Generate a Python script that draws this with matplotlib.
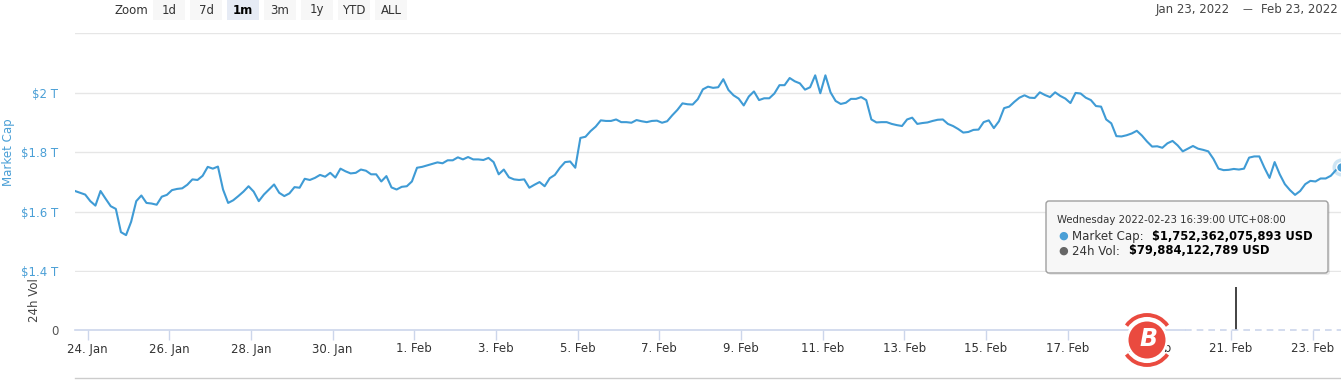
import matplotlib
matplotlib.use("Agg")
import matplotlib.pyplot as plt
import matplotlib.transforms as mtransforms
from matplotlib.patches import FancyBboxPatch, Rectangle, Circle, Arc
from matplotlib.lines import Line2D
from matplotlib.ticker import FuncFormatter
import pandas as pd

# ---------------- data ----------------
start_time = "2022-01-23 16:39"
step = "3h"
# Total market cap (trillion USD), 3-hourly
market_cap_t = [
    1.670, 1.664, 1.658, 1.636, 1.621, 1.670, 1.644, 1.619, 1.610, 1.532,
    1.522, 1.567, 1.636, 1.655, 1.630, 1.628, 1.624, 1.651, 1.657, 1.673,
    1.677, 1.679, 1.691, 1.709, 1.707, 1.721, 1.751, 1.745, 1.752, 1.675,
    1.630, 1.639, 1.653, 1.668, 1.686, 1.668, 1.636, 1.658, 1.675, 1.692,
    1.664, 1.653, 1.662, 1.683, 1.681, 1.711, 1.707, 1.714, 1.724, 1.718,
    1.731, 1.715, 1.745, 1.736, 1.729, 1.731, 1.742, 1.738, 1.726, 1.726,
    1.702, 1.720, 1.682, 1.675, 1.684, 1.686, 1.702, 1.748, 1.751, 1.756,
    1.761, 1.766, 1.763, 1.773, 1.773, 1.783, 1.776, 1.784, 1.776, 1.776,
    1.774, 1.781, 1.767, 1.726, 1.742, 1.716, 1.709, 1.707, 1.709, 1.681,
    1.691, 1.700, 1.686, 1.713, 1.724, 1.748, 1.767, 1.769, 1.748, 1.848,
    1.852, 1.871, 1.886, 1.907, 1.905, 1.905, 1.910, 1.901, 1.901, 1.899,
    1.908, 1.904, 1.901, 1.905, 1.906, 1.899, 1.904, 1.924, 1.942, 1.964,
    1.961, 1.960, 1.978, 2.011, 2.020, 2.016, 2.018, 2.045, 2.009, 1.991,
    1.980, 1.957, 1.987, 2.004, 1.975, 1.981, 1.981, 1.997, 2.025, 2.025,
    2.049, 2.038, 2.031, 2.010, 2.018, 2.058, 1.998, 2.058, 2.001, 1.972,
    1.962, 1.966, 1.979, 1.979, 1.985, 1.975, 1.910, 1.900, 1.901, 1.901,
    1.895, 1.891, 1.888, 1.910, 1.916, 1.895, 1.898, 1.900, 1.905, 1.909,
    1.910, 1.895, 1.888, 1.878, 1.866, 1.868, 1.875, 1.876, 1.901, 1.907,
    1.881, 1.904, 1.948, 1.953, 1.969, 1.983, 1.991, 1.983, 1.982, 2.001,
    1.992, 1.985, 2.001, 1.989, 1.980, 1.965, 1.999, 1.997, 1.983, 1.975,
    1.955, 1.953, 1.910, 1.897, 1.854, 1.853, 1.857, 1.863, 1.872, 1.856,
    1.836, 1.819, 1.820, 1.815, 1.830, 1.838, 1.823, 1.803, 1.812, 1.821,
    1.812, 1.808, 1.803, 1.778, 1.745, 1.740, 1.741, 1.744, 1.742, 1.745,
    1.782, 1.786, 1.786, 1.748, 1.714, 1.767, 1.726, 1.693, 1.673, 1.657,
    1.670, 1.693, 1.704, 1.702, 1.712, 1.712, 1.721, 1.740, 1.752,
]
# 24h volume (billion USD) - only one bar visible
vol_times = ["2022-02-21 03:00"]
vol_values_b = [80.0]

mc_yticks = [1.4, 1.6, 1.8, 2.0, 2.2]
mc_yticklabels = ["$1.4 T", "$1.6 T", "$1.8 T", "$2 T", ""]
x_tick_dates = pd.date_range("2022-01-24", "2022-02-23", freq="2D")
zoom_buttons = ["1d", "7d", "1m", "3m", "1y", "YTD", "ALL"]
selected_button = "1m"
range_from = "Jan 23, 2022"
range_to = "Feb 23, 2022"
tooltip_title = "Wednesday 2022-02-23 16:39:00 UTC+08:00"
tooltip_mc = "$1,752,362,075,893 USD"
tooltip_vol = "$79,884,122,789 USD"

# ---------------- style ----------------
W, H = 1341, 380
BLUE = "#3f9bd5"
LBLUE = "#4a9fd6"
GRID = "#e6e6e6"
AXIS = "#ccd6eb"
TXT = "#333333"

plt.rcParams["font.family"] = ["DejaVu Sans"]
fig = plt.figure(figsize=(W / 100, H / 100), dpi=100)
fig.patch.set_facecolor("white")
PX = mtransforms.IdentityTransform()


def fx(x):
    return x / W


def fy(y):
    return 1 - y / H


L, R = 75, 1341
MC_TOP, MC_BOT, VOL_BOT = 33, 271.5, 330

ax = fig.add_axes([fx(L), fy(MC_BOT), (R - L) / W, (MC_BOT - MC_TOP) / H])
axv = fig.add_axes([fx(L), fy(VOL_BOT), (R - L) / W, (VOL_BOT - MC_BOT) / H], sharex=ax)

times = pd.date_range(start_time, periods=len(market_cap_t), freq=step)
ax.plot(times, market_cap_t, color=BLUE, lw=1.5, solid_joinstyle="round", zorder=3)
# hover marker on last point
ax.plot(times[-1:], market_cap_t[-1:], "o", ms=13, color=BLUE, alpha=0.25,
        mec="none", clip_on=False, zorder=4)
ax.plot(times[-1:], market_cap_t[-1:], "o", ms=7, color=LBLUE, mec="white",
        mew=1, clip_on=False, zorder=5)

ax.set_xlim(times[0], times[-1])
ax.set_ylim(1.4, 2.2)
ax.set_yticks(mc_yticks)
ax.set_yticklabels(mc_yticklabels)
ax.yaxis.grid(True, color=GRID, lw=1)
ax.set_axisbelow(True)
ax.tick_params(axis="y", length=0, pad=12, labelcolor=LBLUE, labelsize=8.5)
ax.tick_params(axis="x", bottom=False, labelbottom=False)
for s in ax.spines.values():
    s.set_visible(False)

vt = pd.to_datetime(vol_times)
axv.vlines(vt, 0, vol_values_b, color="#222222", lw=1.2)
axv.set_ylim(0, 110)
axv.set_yticks([0])
axv.set_yticklabels(["0"])
axv.tick_params(axis="y", length=0, pad=12, labelcolor="#555555", labelsize=8.5)
axv.set_xticks(x_tick_dates)
axv.xaxis.set_major_formatter(FuncFormatter(
    lambda v, p: (lambda d: f"{d.day}. {d.strftime('%b')}")(pd.Timestamp(matplotlib.dates.num2date(v)))))
axv.tick_params(axis="x", length=7, width=1, color=AXIS, labelsize=8.5,
                labelcolor=TXT, pad=2)
for s in axv.spines.values():
    s.set_visible(False)
split = (1185 - L) / (R - L)
axv.plot([0, split], [0, 0], transform=axv.transAxes, color=AXIS, lw=1.2, clip_on=False)
axv.plot([split, 1], [0, 0], transform=axv.transAxes, color=AXIS, lw=1.2,
         ls=(0, (4, 3)), clip_on=False)

# axis titles
fig.text(fx(9), fy(152), "Market Cap", rotation=90, color=LBLUE, fontsize=8.5,
         ha="center", va="center")
fig.text(fx(35), fy(300), "24h Vol", rotation=90, color="#444444", fontsize=8.5,
         ha="center", va="center")

# bottom navigator line
fig.add_artist(Line2D([L, R], [H - 378, H - 378], transform=PX, color="#cccccc", lw=1))

# zoom buttons
fig.text(fx(131), fy(10), "Zoom", fontsize=8.5, color=TXT, ha="center", va="center")
bx = [153, 190, 227, 264, 301, 338, 375]
for x0, lab in zip(bx, zoom_buttons):
    sel = lab == selected_button
    fig.add_artist(Rectangle((x0, H - 20), 32, 20, transform=PX,
                             facecolor="#e6ebf5" if sel else "#f7f7f7", edgecolor="none"))
    fig.text(fx(x0 + 16), fy(10), lab, fontsize=8.5, color="#000000" if sel else TXT,
             weight="bold" if sel else "normal", ha="center", va="center")

# date range
fig.text(fx(1230), fy(9), range_from, fontsize=8.5, color="#444444", ha="right", va="center")
fig.text(fx(1247), fy(9), "—", fontsize=7, color="#444444", ha="center", va="center")
fig.text(fx(1338), fy(9), range_to, fontsize=8.5, color="#444444", ha="right", va="center")

# tooltip
fig.add_artist(FancyBboxPatch((1048, H - 275), 282, 72, transform=PX,
                              boxstyle="round,pad=0,rounding_size=3",
                              facecolor="#000000", alpha=0.08, edgecolor="none", zorder=9))
fig.add_artist(FancyBboxPatch((1046, H - 273), 282, 72, transform=PX,
                              boxstyle="round,pad=0,rounding_size=3",
                              facecolor="#f7f7f7", edgecolor="#a0a0a0", lw=1, zorder=10))
fig.text(fx(1057), fy(220), tooltip_title, fontsize=7.3, color=TXT, va="center", zorder=11)
fig.text(fx(1063), fy(236), "●", fontsize=8, color=LBLUE, ha="center", va="center", zorder=11)
fig.text(fx(1072), fy(236), "Market Cap:", fontsize=8.5, color=TXT, va="center", zorder=11)
fig.text(fx(1152), fy(236), tooltip_mc, fontsize=8.3, color="#000000", weight="bold",
         va="center", zorder=11)
fig.text(fx(1063), fy(251), "●", fontsize=8, color="#666666", ha="center", va="center", zorder=11)
fig.text(fx(1072), fy(251), "24h Vol:", fontsize=8.5, color=TXT, va="center", zorder=11)
fig.text(fx(1129), fy(251), tooltip_vol, fontsize=8.3, color="#000000", weight="bold",
         va="center", zorder=11)

# watermark logo
cx, cy = 1147, H - 340
RED = "#ea4a3f"
fig.add_artist(Circle((cx, cy), 21, transform=PX, facecolor="white", edgecolor="none", zorder=12))
fig.add_artist(Arc((cx, cy), 50, 50, theta1=35, theta2=145, transform=PX, color=RED, lw=2.8, zorder=13))
fig.add_artist(Arc((cx, cy), 50, 50, theta1=215, theta2=325, transform=PX, color=RED, lw=2.8, zorder=13))
fig.add_artist(Circle((cx, cy), 18.5, transform=PX, facecolor=RED, edgecolor="none", zorder=13))
fig.text(fx(cx + 1), fy(339), "B", fontsize=17, color="white", weight="bold", style="italic",
         ha="center", va="center", zorder=14)

fig.savefig("out.png", dpi=100, facecolor="white")
